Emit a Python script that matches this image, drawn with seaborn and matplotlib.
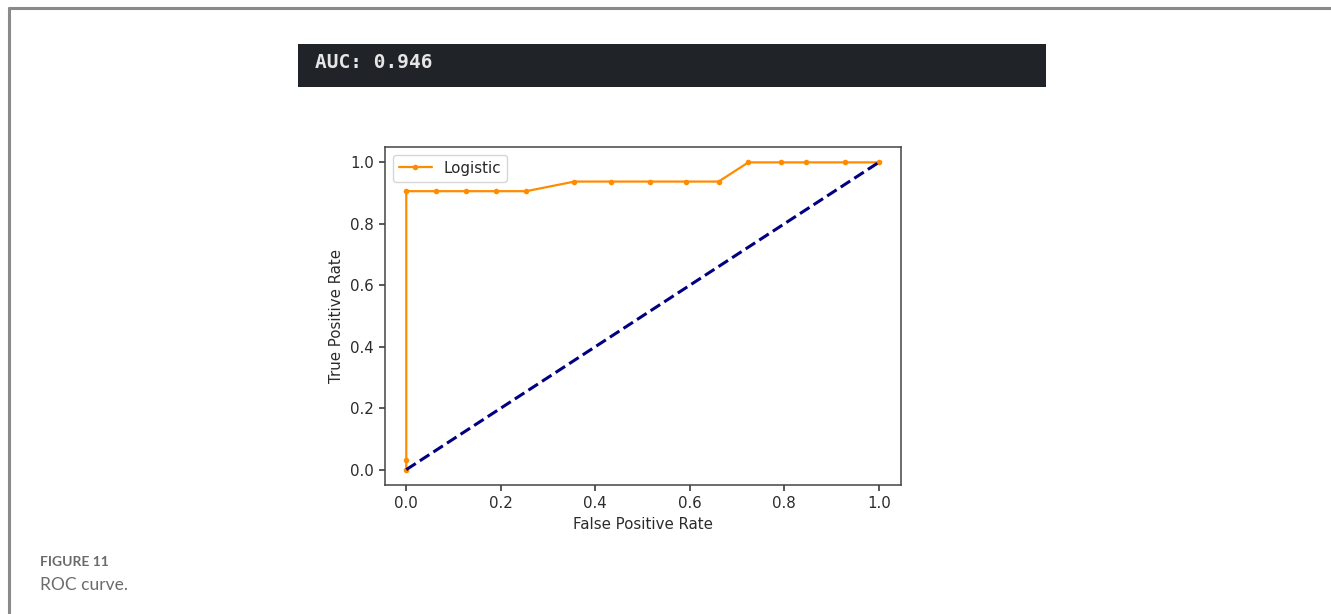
import numpy as np
import pandas as pd
import matplotlib
matplotlib.use("Agg")
import matplotlib.pyplot as plt
from matplotlib.patches import Rectangle
from matplotlib.lines import Line2D
import seaborn as sns

# ---- data ----
fpr = [0.0, 0.0, 0.0, 0.062, 0.127, 0.19, 0.254, 0.356, 0.433, 0.515, 0.592, 0.661,
       0.724, 0.792, 0.845, 0.929, 1.0]
tpr = [0.0, 0.03125, 0.90625, 0.90625, 0.90625, 0.90625, 0.90625, 0.9375, 0.9375,
       0.9375, 0.9375, 0.9375, 1.0, 1.0, 1.0, 1.0, 1.0]
diag_x = [0.0, 1.0]
diag_y = [0.0, 1.0]
series_label = "Logistic"
auc_text = "AUC: 0.946"
xticks = [0.0, 0.2, 0.4, 0.6, 0.8, 1.0]
yticks = [0.0, 0.2, 0.4, 0.6, 0.8, 1.0]

sns.set_style("ticks")
plt.rcParams['font.family'] = ['DejaVu Sans']

W, H = 1331, 614
fig = plt.figure(figsize=(W / 100, H / 100), dpi=100)
fig.patch.set_facecolor("white")

def fx(px):
    return px / W

def fy(py):
    return 1 - py / H

# border lines of the page
fig.add_artist(Line2D([fx(9), fx(W)], [fy(7.5), fy(7.5)], color="#8a8a8a", lw=2.2))
fig.add_artist(Line2D([fx(9), fx(9)], [fy(7.5), 0], color="#8a8a8a", lw=2.2))

# dark output box
fig.add_artist(Rectangle((fx(298), fy(87)), fx(1046) - fx(298), fy(44) - fy(87),
                         transform=fig.transFigure, facecolor="#202328",
                         edgecolor="#202328", lw=0))
fig.text(fx(315), fy(62), auc_text, color="#e6e6e6", fontsize=14,
         family="DejaVu Sans Mono", fontweight="semibold", va="center", ha="left")

# axes
ax = fig.add_axes([fx(385), fy(485), fx(901) - fx(385), fy(147) - fy(485)])
df = pd.DataFrame({"fpr": fpr, "tpr": tpr})
sns.lineplot(data=df, x="fpr", y="tpr", ax=ax, sort=False, estimator=None,
             color="darkorange", marker=".", markersize=8, markeredgewidth=0,
             linewidth=1.6, label=series_label)
dd = pd.DataFrame({"x": diag_x, "y": diag_y})
sns.lineplot(data=dd, x="x", y="y", ax=ax, sort=False, estimator=None,
             color="navy", linestyle="--", linewidth=2.2)

ax.set_xlim(-0.045, 1.047)
ax.set_ylim(-0.05, 1.05)
ax.set_xticks(xticks)
ax.set_yticks(yticks)
ax.set_xticklabels([f"{v:.1f}" for v in xticks])
ax.set_yticklabels([f"{v:.1f}" for v in yticks])
ax.tick_params(labelsize=10.8, colors="#2b2b2b", length=4.5, width=1.1)
for s in ax.spines.values():
    s.set_visible(True)
    s.set_color("#444444")
    s.set_linewidth(1.1)
ax.set_xlabel("False Positive Rate", fontsize=10.8, color="#2b2b2b")
ax.set_ylabel("True Positive Rate", fontsize=10.8, color="#2b2b2b")
leg = ax.legend(loc="upper left", fontsize=10.8, frameon=True, handlelength=2.2)
leg.get_frame().set_edgecolor("#cccccc")

# caption
fig.text(fx(40), fy(562), "FIGURE 11", color="#6b6b6b", fontsize=10,
         family="Lato", fontweight="bold", va="center", ha="left")
fig.text(fx(40), fy(585), "ROC curve.", color="#6b6b6b", fontsize=12.5,
         family="Lato", va="center", ha="left")

fig.savefig("out.png", dpi=100)
